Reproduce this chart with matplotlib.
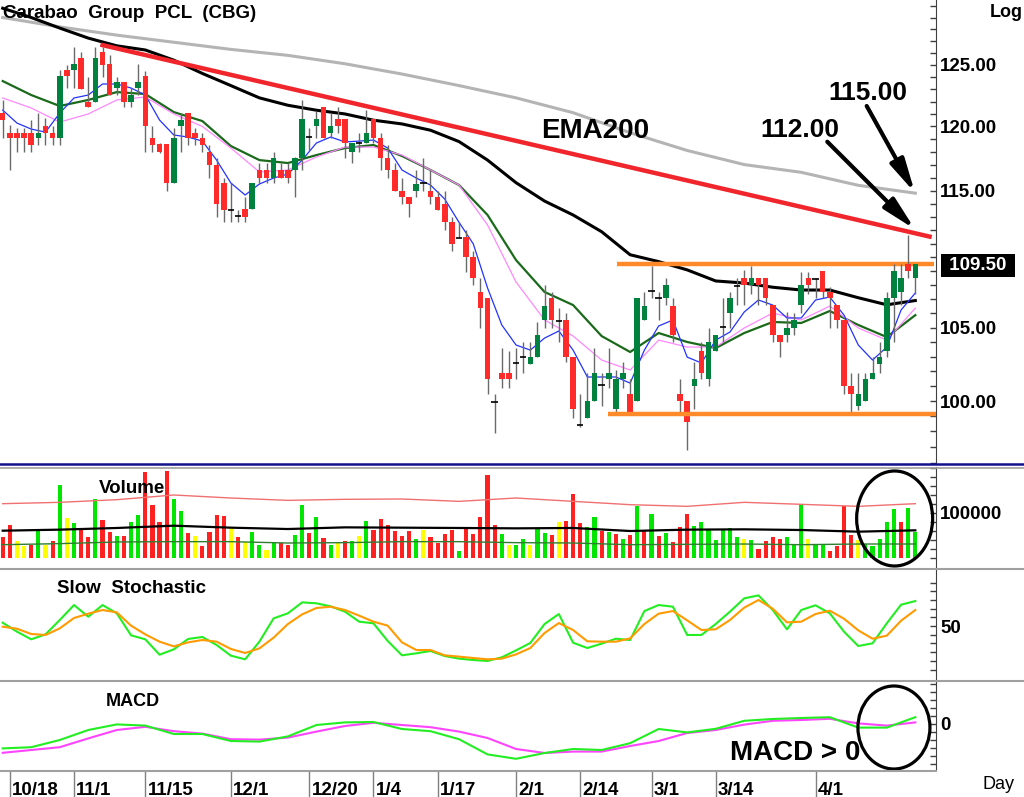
import numpy as np
import matplotlib
matplotlib.use("Agg")
import matplotlib.pyplot as plt
import matplotlib.transforms as mtransforms
from matplotlib.patches import Ellipse
from matplotlib.lines import Line2D
from matplotlib.ticker import FixedLocator, NullFormatter, FormatStrFormatter

plt.rcParams['font.family'] = ['Liberation Sans', 'DejaVu Sans']
plt.rcParams['font.weight'] = 'bold'

# ---- candles (daily OHLC, baht) ----
opens = [121.1, 119.5, 119.5, 119.5, 119.5, 119.1, 120.0, 119.5, 119.1, 124.6,
         124.6, 125.6, 122.0, 122.0, 126.1, 125.1, 123.1, 123.6, 122.0, 123.1,
         124.1, 119.1, 118.6, 118.6, 115.6, 120.0, 121.1, 119.5, 119.1, 118.0,
         117.0, 115.6, 113.6, 113.1, 113.6, 113.6, 116.6, 116.6, 116.0, 116.6,
         116.6, 116.6, 117.5, 119.1, 120.0, 121.6, 119.5, 120.6, 120.6, 118.0,
         118.7, 118.7, 120.6, 119.1, 117.5, 116.6, 115.0, 114.5, 115.0, 115.6,
         115.0, 114.5, 114.0, 112.6, 111.5, 111.5, 110.0, 107.5, 107.1, 100.0,
         101.9, 101.9, 102.6, 103.0, 102.5, 103.0, 105.5, 107.1, 105.5, 105.5,
         103.0, 98.5, 98.9, 100.0, 101.0, 101.5, 99.5, 101.5, 100.5, 100.0,
         105.5, 107.5, 107.1, 107.1, 106.5, 100.5, 100.0, 101.0, 103.4, 101.5,
         103.4, 105.0, 106.0, 107.9, 108.5, 108.0, 108.5, 108.5, 106.6, 104.5,
         104.5, 105.0, 106.6, 108.5, 108.5, 109.0, 107.5, 106.6, 105.5, 101.0,
         99.7, 100.0, 101.5, 102.5, 103.4, 107.1, 107.5, 109.5, 108.5]
highs = [122.1, 120.1, 119.9, 119.9, 120.5, 121.1, 120.7, 120.0, 124.6, 125.0,
         126.5, 126.1, 124.0, 126.5, 126.5, 125.8, 124.0, 123.6, 123.1, 125.1,
         124.5, 120.0, 118.7, 118.6, 119.9, 121.1, 121.1, 119.9, 119.5, 118.5,
         117.5, 116.0, 115.6, 113.5, 114.5, 115.6, 117.1, 117.1, 118.0, 117.1,
         117.1, 117.6, 122.1, 119.9, 121.2, 121.6, 121.1, 121.6, 120.6, 118.7,
         119.5, 121.3, 120.6, 119.5, 118.5, 117.1, 116.0, 114.5, 116.6, 117.5,
         116.6, 115.0, 115.0, 113.0, 112.6, 112.0, 110.5, 108.5, 107.1, 100.5,
         103.6, 103.4, 103.6, 104.0, 104.0, 105.4, 108.0, 107.5, 106.4, 106.0,
         103.0, 100.5, 101.9, 103.6, 101.9, 103.6, 102.1, 102.6, 101.5, 107.1,
         107.5, 109.4, 107.5, 108.5, 107.1, 101.5, 100.0, 102.6, 104.0, 105.0,
         104.5, 107.1, 107.5, 108.5, 109.1, 109.4, 108.5, 108.5, 106.6, 104.5,
         106.1, 106.0, 108.95, 108.95, 108.5, 109.0, 107.9, 106.6, 105.5, 101.9,
         101.9, 101.9, 103.0, 104.0, 107.5, 109.5, 109.5, 111.65, 109.5]
lows = [119.1, 116.6, 118.0, 118.0, 118.0, 118.5, 118.5, 118.5, 118.5, 123.1,
        123.1, 123.0, 121.6, 122.0, 124.0, 122.5, 122.5, 121.6, 121.6, 122.5,
        118.0, 118.0, 117.9, 115.0, 115.6, 118.0, 118.5, 118.5, 118.0, 116.0,
        113.0, 112.6, 112.6, 112.6, 112.6, 113.6, 115.6, 115.6, 115.6, 116.0,
        115.6, 114.5, 116.6, 118.1, 119.1, 119.1, 119.1, 119.5, 117.5, 117.1,
        118.0, 118.7, 118.7, 116.6, 116.0, 115.0, 114.0, 113.0, 114.5, 115.0,
        114.0, 113.5, 112.0, 110.5, 111.4, 108.95, 108.0, 105.0, 100.5, 97.9,
        100.9, 100.9, 101.5, 101.9, 102.5, 103.0, 105.0, 105.0, 104.0, 102.6,
        98.9, 98.3, 98.9, 100.0, 99.7, 100.9, 99.2, 100.9, 99.2, 100.0,
        105.5, 107.1, 105.5, 106.6, 104.0, 99.2, 96.8, 99.5, 101.5, 101.0,
        103.4, 104.0, 105.0, 106.6, 106.6, 107.4, 106.6, 106.6, 104.0, 103.0,
        104.0, 104.5, 106.0, 107.4, 107.1, 107.1, 105.0, 105.0, 100.5, 99.3,
        99.4, 100.0, 101.5, 101.9, 103.0, 104.0, 106.6, 108.5, 107.4]
closes = [120.5, 119.1, 119.1, 119.1, 118.5, 119.5, 119.5, 119.1, 124.1, 124.1,
          125.1, 123.0, 121.6, 125.6, 125.0, 122.5, 123.6, 122.0, 122.5, 123.6,
          120.0, 118.5, 118.0, 115.6, 119.1, 120.5, 119.1, 119.1, 118.5, 117.0,
          114.0, 113.5, 113.55, 113.05, 113.0, 115.6, 116.0, 116.0, 117.5, 116.0,
          116.0, 117.5, 120.6, 119.15, 120.6, 119.1, 120.0, 120.0, 118.7, 118.7,
          118.65, 119.5, 119.1, 117.5, 116.6, 115.0, 114.5, 114.0, 115.5, 115.55,
          114.5, 113.5, 112.6, 111.0, 111.45, 110.0, 108.5, 106.4, 101.5, 99.95,
          101.5, 101.5, 102.55, 102.95, 103.0, 104.5, 106.5, 105.5, 105.45, 103.0,
          99.5, 98.45, 100.0, 101.9, 101.05, 101.9, 101.5, 101.9, 99.2, 107.1,
          106.5, 107.55, 107.05, 108.0, 104.5, 100.0, 98.6, 101.5, 101.9, 104.0,
          104.5, 105.05, 107.1, 107.95, 108.0, 108.5, 108.0, 107.1, 104.5, 104.0,
          105.0, 105.5, 108.0, 108.0, 108.45, 107.5, 107.1, 105.5, 101.0, 100.5,
          100.5, 101.5, 101.9, 103.0, 107.1, 109.0, 108.5, 109.0, 109.5]

# ---- moving averages ----
ema200 = [129.0, 128.2, 127.5, 126.9, 126.3, 125.8, 125.1, 124.25, 123.3,
          122.3, 121.1, 119.5, 118.1, 117.0, 116.4, 115.4, 114.8]          # every 8 bars
ema_black = [129.8, 129.0, 128.1, 127.25, 126.6, 126.25, 125.4, 124.3, 123.3,
             122.3, 121.7, 121.3, 121.0, 120.5, 120.2, 119.7, 118.8, 117.35,
             115.6, 114.2, 113.15, 111.9, 110.2, 109.7, 109.1, 108.3, 108.15,
             107.85, 107.65, 107.65, 107.1, 106.6, 106.9]                   # every 4 bars
ema_green = [123.67, 122.53, 121.64, 122.13, 122.77, 122.61, 121.15, 120.43,
             118.45, 117.35, 117.12, 117.74, 118.29, 118.53, 117.67, 116.58,
             115.42, 113.15, 109.81, 107.51, 106.58, 104.41, 103.31, 104.62,
             104.0, 103.58, 104.62, 105.39, 105.32, 106.16, 105.18, 104.34, 105.87]
ema_pink = [122.29, 121.48, 120.35, 121.0, 122.13, 122.37, 121.0, 120.0,
            118.29, 116.43, 116.58, 117.59, 118.37, 118.37, 117.74, 116.58,
            115.42, 112.4, 108.22, 105.53, 104.41, 102.76, 102.08, 104.13,
            103.65, 103.65, 104.97, 106.02, 105.53, 106.51, 104.97, 104.13, 106.37]
ema_blue = [121.31, 120.27, 119.79, 119.55, 121.07, 122.29, 122.53, 123.43, 123.43, 123.10,
            122.53, 120.51, 119.32, 119.16, 118.84, 117.35, 115.58, 114.66, 115.50, 115.96,
            116.27, 117.35, 118.69, 119.16, 118.77, 118.84, 118.92, 118.29, 116.58, 115.96,
            115.42, 114.35, 112.6, 111.0, 107.8, 105.18, 103.79, 103.44, 104.27, 104.76,
            103.44, 101.61, 101.61, 101.61, 101.2, 103.44, 105.11, 105.53, 102.96, 102.56,
            104.13, 104.69, 106.09, 106.94, 106.58, 105.67, 105.67, 106.94, 107.15, 105.87,
            103.79, 102.76, 103.65, 106.23, 107.44]                            # every 2 bars

trend_x = [13.7, 130.3]
trend_y = [126.7, 111.5]
resist_level, resist_from = 109.5, 86.2
support_level, support_from = 99.15, 84.9

# ---- volume ----
volume = [46000, 72600, 37000, 25900, 29600, 65200, 29600, 38500, 163000, 88900,
          77800, 63000, 45900, 131100, 85200, 57800, 49600, 49600, 79300, 94800,
          190400, 117000, 80000, 192600, 131100, 103700, 55600, 49600, 27400, 57800,
          96300, 92600, 66700, 45900, 34800, 57800, 29600, 17000, 33300, 33300,
          29600, 51900, 118500, 55600, 91100, 44400, 29600, 33300, 37000, 38500,
          48100, 81500, 61500, 87400, 74100, 59300, 49600, 60700, 43000, 61500,
          45900, 33300, 54100, 61500, 14800, 65200, 54100, 91100, 185200, 74100,
          54100, 28100, 29600, 42200, 29600, 66700, 55600, 51900, 79300, 81500,
          143000, 77800, 68900, 91100, 59300, 57000, 54100, 43000, 51100, 116300,
          59300, 97800, 49600, 55600, 36300, 68900, 97800, 71900, 79300, 65200,
          39300, 65200, 66700, 46700, 43000, 40700, 20000, 37000, 46700, 43000,
          46700, 31100, 118500, 43000, 31100, 29600, 16300, 27400, 116300, 50400,
          40700, 31900, 27400, 42200, 79300, 108900, 79300, 111100, 57000]
vol_kind = ("rryyrgyrgy" "grrgrrgrgg" "rrrrggryrr" "rryryggygr" "rggrgrgyrg"
            "ygrrrrrrgy" "rrrrgrrrrr" "gyggyggryr" "rrggrgrgrg" "rgrgrrrggg"
            "ggggygrrrr" "gggyggrrrr" "ygggggrgg")
vol_red = [120700, 123700, 129600, 140000, 133300, 128100, 130400, 131100, 125900,
           133300, 125900, 118500, 114800, 123700, 119300, 114800, 120700]
vol_black = [60700, 63000, 66700, 71800, 67400, 64400, 68100, 67400, 66700,
             65900, 66700, 60000, 63000, 63700, 62200, 58500, 61500]
vol_green = [29600, 31900, 35600, 36300, 36300, 33300, 34100, 36300, 36300,
             34100, 33300, 29600, 30400, 31100, 29600, 31100, 31100]

# ---- slow stochastic (every 2 bars) ----
stoch_k = [53.8, 43.5, 34.7, 40.4, 56.9, 74.1, 60.7, 74.1, 64.6, 39.3,
           34.7, 17.0, 23.2, 35.1, 37.4, 28.2, 15.9, 11.7, 32.0, 58.8,
           64.6, 77.2, 76.1, 72.6, 66.5, 55.0, 53.1, 32.8, 16.3, 18.6,
           21.3, 15.5, 12.5, 10.9, 9.8, 14.0, 22.0, 30.5, 52.3, 63.8,
           30.8, 24.7, 29.7, 35.4, 33.9, 67.2, 74.1, 72.2, 39.7, 39.7,
           52.3, 66.5, 81.8, 85.2, 68.4, 46.2, 68.4, 73.8, 64.6, 43.5,
           27.0, 30.1, 53.1, 74.5, 78.7]
stoch_d = [49.2, 46.9, 40.8, 39.7, 47.3, 59.2, 64.2, 68.4, 65.7, 50.4,
           40.4, 32.0, 26.6, 31.2, 33.9, 32.0, 23.6, 19.0, 24.3, 36.6,
           52.3, 63.4, 70.7, 72.2, 68.4, 61.9, 55.0, 50.4, 31.2, 22.4,
           22.4, 16.3, 14.8, 13.2, 11.7, 12.5, 17.4, 24.7, 42.0, 53.4,
           45.4, 32.4, 32.0, 32.0, 35.8, 52.3, 64.2, 67.2, 56.5, 45.4,
           46.2, 56.9, 71.1, 79.9, 69.9, 54.2, 55.0, 63.8, 67.6, 58.4,
           45.0, 35.4, 38.9, 56.1, 68.4]

# ---- MACD (every 4 bars) ----
macd = [-0.61, -0.58, -0.40, -0.15, -0.01, -0.04, -0.25, -0.25, -0.425, -0.44,
        -0.31, -0.025, 0.04, 0.05, -0.125, -0.18, -0.38, -0.76, -0.87, -0.725,
        -0.625, -0.65, -0.48, -0.125, -0.21, -0.12, 0.08, 0.125, 0.15, 0.17,
        -0.09, -0.09, 0.17]
signal = [-0.72, -0.65, -0.58, -0.36, -0.15, -0.07, -0.18, -0.24, -0.38, -0.39,
          -0.34, -0.19, -0.05, 0.03, -0.025, -0.08, -0.19, -0.35, -0.625, -0.725,
          -0.69, -0.69, -0.55, -0.425, -0.225, -0.15, -0.015, 0.08, 0.10, 0.13,
          0.015, -0.04, 0.04]

date_idx = [1, 10, 20, 32, 43, 52, 61, 72, 81, 91, 100, 114]
date_lab = ['10/18', '11/1', '11/15', '12/1', '12/20', '1/4', '1/17',
            '2/1', '2/14', '3/1', '3/14', '4/1']

W, H = 1024, 797
fig = plt.figure(figsize=(W / 100, H / 100), dpi=100)
fig.patch.set_facecolor('white')


def panel(top, bottom):
    return fig.add_axes([0, 1 - bottom / H, 936 / W, (bottom - top) / H])


ax = panel(0, 463)
axv = panel(467, 568)
axs = panel(568, 680)
axm = panel(680, 770)

n = len(closes)
x = np.arange(n)
idx2 = np.arange(0, n, 2)
idx4 = np.arange(0, n, 4)
idx8 = np.arange(0, n, 8)

for a in (ax, axv, axs, axm):
    for s in ('left', 'top', 'bottom'):
        a.spines[s].set_visible(False)
    a.spines['right'].set_color('#404040')
    a.set_xlim(-0.38, 130.9)
    a.set_facecolor('none')
    a.yaxis.tick_right()
    a.tick_params(axis='y', which='both', direction='in', length=4, width=1,
                  color='#404040', pad=3, labelsize=13.5)
    a.tick_params(axis='x', which='both', bottom=False, labelbottom=False)

# ---- price panel ----
ax.set_yscale('log')
ax.set_ylim(95.97, 130.51)
ax.yaxis.set_major_locator(FixedLocator([100, 105, 115, 120, 125]))
ax.yaxis.set_major_formatter(FormatStrFormatter('%.2f'))
ax.yaxis.set_minor_locator(FixedLocator(np.arange(96, 131, 1)))
ax.yaxis.set_minor_formatter(NullFormatter())

ax.plot(idx8, ema200, color='#B4B4B4', lw=2.2, zorder=2)
ax.plot(idx4, ema_black, color='black', lw=2.2, zorder=2)
ax.plot(idx4, ema_green, color='#1B6A1B', lw=1.6, zorder=2)
ax.plot(idx4, ema_pink, color='#FF88FF', lw=0.9, zorder=2)
ax.plot(idx2, ema_blue, color='#2233FF', lw=0.9, zorder=2)

ax.hlines(resist_level, resist_from, 130.6, color='#FF8A2A', lw=3.2, zorder=2.5)

o = np.array(opens)
c = np.array(closes)
up = (c - o) > 0.08
dn = (o - c) > 0.08
doji = ~(up | dn)
ax.vlines(x, lows, highs, color='#6A6A6A', lw=1.0, zorder=3)
ax.bar(x[up], (c - o)[up], bottom=o[up], width=0.78, color='#00823F', zorder=4)
ax.bar(x[dn], (c - o)[dn], bottom=o[dn], width=0.78, color='#FF2B2B', zorder=4)
ax.hlines(c[doji], x[doji] - 0.45, x[doji] + 0.45, color='black', lw=1.2, zorder=4)

ax.hlines(support_level, support_from, 130.9, color='#FF8A2A', lw=3.2, zorder=5)
ax.plot(trend_x, trend_y, color='#F0262C', lw=3.2, solid_capstyle='butt', zorder=6)

arrow = dict(arrowstyle='-|>,head_length=2.0,head_width=0.45', lw=3.0,
             color='black', shrinkA=0, shrinkB=0)
ax.annotate('', xy=(127.95, 114.83), xytext=(121.18, 121.64), arrowprops=arrow, zorder=7)
ax.annotate('', xy=(127.95, 112.08), xytext=(115.65, 118.79), arrowprops=arrow, zorder=7)

# ---- volume panel ----
kind_col = {'r': '#FF2020', 'g': '#00E600', 'y': '#FFFF00'}
axv.set_ylim(-22222, 202222)
axv.bar(x, volume, width=0.58, color=[kind_col[k] for k in vol_kind], zorder=2)
axv.plot(idx8, vol_red, color='#F07070', lw=1.0, zorder=3)
axv.plot(idx8, vol_black, color='black', lw=1.6, zorder=3)
axv.plot(idx8, vol_green, color='#2E7D32', lw=1.0, zorder=3)
axv.yaxis.set_major_locator(FixedLocator([100000]))
axv.yaxis.set_major_formatter(FormatStrFormatter('%d'))
axv.yaxis.set_minor_locator(FixedLocator(np.arange(0, 200001, 20000)))
axv.add_patch(Ellipse((125.1, 87800), 10.66, 211111, fill=False, ec='black',
                      lw=2.3, clip_on=False, zorder=6))

# ---- stochastic panel ----
axs.set_ylim(-12.07, 116.7)
axs.plot(idx2, stoch_k, color='#22EE22', lw=1.5, zorder=3)
axs.plot(idx2, stoch_d, color='#FF9A00', lw=1.5, zorder=3)
axs.yaxis.set_major_locator(FixedLocator([50]))
axs.yaxis.set_major_formatter(FormatStrFormatter('%d'))
axs.yaxis.set_minor_locator(FixedLocator(np.arange(0, 101, 10)))

# ---- MACD panel ----
axm.set_ylim(-1.15, 1.1)
axm.plot(idx4, signal, color='#FF44FF', lw=1.5, zorder=3)
axm.plot(idx4, macd, color='#22EE22', lw=1.5, zorder=3)
axm.yaxis.set_major_locator(FixedLocator([0]))
axm.yaxis.set_major_formatter(FormatStrFormatter('%g'))
axm.yaxis.set_minor_locator(FixedLocator(np.arange(-1.0, 1.01, 0.2)))
axm.add_patch(Ellipse((125.0, -0.0875), 10.1, 2.075, fill=False, ec='black',
                      lw=2.3, clip_on=False, zorder=6))

axm.set_xticks(date_idx)
axm.tick_params(axis='x', which='major', bottom=True, direction='out', length=19.5,
                width=1, color='#808080', labelbottom=False)
trans = mtransforms.blended_transform_factory(axm.transData, axm.transAxes)
for xi, lab in zip(date_idx, date_lab):
    axm.text(xi + 0.3, -0.278, lab, transform=trans, ha='left', va='baseline',
             fontsize=13.5, clip_on=False)


# ---- separators and text ----
def sep(y, x2=W, color='#A0A0A0', lw=1.5):
    fig.add_artist(Line2D([0, x2 / W], [1 - y / H, 1 - y / H], color=color, lw=lw))


sep(464.3, color='#12128C', lw=1.8)
sep(467.5, lw=1.2)
sep(568.5)
sep(680.5)
sep(770.5, x2=936)


def label(xp, yb, s, size, **kw):
    fig.text(xp / W, 1 - yb / H, s, ha='left', va='baseline', fontsize=size, **kw)


label(3, 17.5, 'Carabao  Group  PCL  (CBG)', 13.5)
label(990, 17, 'Log', 13)
label(99, 493, 'Volume', 13.5)
label(57, 593, 'Slow  Stochastic', 13.5)
label(106, 705.5, 'MACD', 13)
label(541, 138, 'EMA200', 20)
label(760, 137, '112.00', 19)
label(828, 100, '115.00', 19)
label(730, 760, 'MACD > 0', 20)
label(982, 789, 'Day', 13, fontweight='normal')
fig.text(978 / W, 1 - 265.5 / H, ' 109.50 ', ha='center', va='center', fontsize=13.5,
         color='white', bbox=dict(boxstyle='square,pad=0.15', fc='black', ec='none'))

fig.savefig('out.png', dpi=100, facecolor='white')
